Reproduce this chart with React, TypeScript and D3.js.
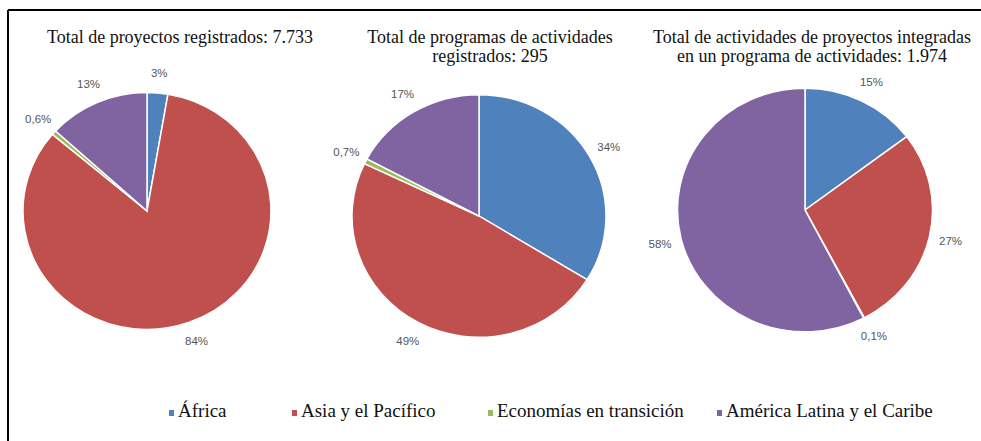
import React from 'react';
import * as d3 from 'd3';

const regions = ['África', 'Asia y el Pacífico', 'Economías en transición', 'América Latina y el Caribe'];
const colors = ['#4F81BD', '#C0504D', '#9BBB59', '#8064A2'];

// shares, with the printed labels
const proyectos = [2.7, 83.5, 0.6, 13.2];
const proyectosLabels = ['3%', '84%', '0,6%', '13%'];
const programas = [33.8, 48.3, 0.7, 17.2];
const programasLabels = ['34%', '49%', '0,7%', '17%'];
const actividades = [14.7, 27.6, 0.1, 57.6];
const actividadesLabels = ['15%', '27%', '0,1%', '58%'];

const titles = [
  ['Total de proyectos registrados: 7.733'],
  ['Total de programas de actividades', 'registrados: 295'],
  ['Total de actividades de proyectos integradas', 'en un programa de actividades: 1.974'],
];

const pies = [
  { values: proyectos, labels: proyectosLabels, cx: 147, cy: 211, r: 124, tx: 180 },
  { values: programas, labels: programasLabels, cx: 479, cy: 216, r: 127, tx: 490 },
  { values: actividades, labels: actividadesLabels, cx: 805, cy: 210, r: 127.5, tx: 812 },
];

const legendX = [169, 292, 488, 717];

const ky = 0.955; // the original pies are slightly squashed
const serif = '"Liberation Serif", "Times New Roman", serif';
const sans = '"Liberation Sans", Arial, sans-serif';

export default function App() {
  const pie = d3.pie<number>().sort(null).value(d => d);

  return (
    <svg width={981} height={441} style={{ position: 'absolute', left: 0, top: 0, background: '#fff' }}>
      <rect width={981} height={441} fill="#fff" />
      <line x1={8} x2={981} y1={10} y2={10} stroke="#000" strokeWidth={2} />
      <line x1={8} x2={8} y1={10} y2={441} stroke="#000" strokeWidth={2} />

      {pies.map((p, i) => {
        const arcs = pie(p.values);
        const arc = d3.arc<d3.PieArcDatum<number>>().innerRadius(0).outerRadius(p.r);
        const lr = p.r * 1.17;
        return (
          <g key={i}>
            {titles[i].map((t, j) => (
              <text key={j} x={p.tx} y={43 + j * 19} textAnchor="middle"
                style={{ fontFamily: serif, fontSize: 18 }} fill="#111">{t}</text>
            ))}
            <g transform={`translate(${p.cx},${p.cy}) scale(1,${ky})`}>
              {arcs.map((a, k) => (
                <path key={k} d={arc(a) ?? ''} fill={colors[k]} stroke="#fff" strokeWidth={1.5} />
              ))}
            </g>
            {arcs.map((a, k) => {
              const m = (a.startAngle + a.endAngle) / 2;
              const x = p.cx + Math.sin(m) * lr;
              const y = p.cy - Math.cos(m) * lr * ky;
              return (
                <text key={k} x={x} y={y} dy="0.35em" textAnchor="middle"
                  style={{ fontFamily: sans, fontSize: 11.5 }} fill="#555">
                  {p.labels[k]}
                </text>
              );
            })}
          </g>
        );
      })}

      {regions.map((name, i) => (
        <g key={name} transform={`translate(${legendX[i]},0)`}>
          <rect x={0} y={410} width={5} height={6} fill={colors[i]} />
          <text x={9} y={417} style={{ fontFamily: serif, fontSize: 19 }} fill="#111">{name}</text>
        </g>
      ))}
    </svg>
  );
}
